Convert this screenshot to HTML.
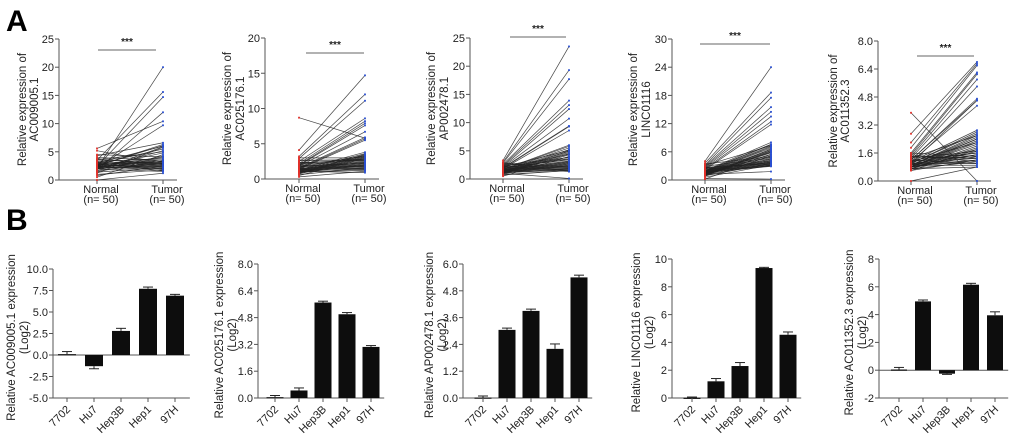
<!DOCTYPE html>
<html><head><meta charset="utf-8">
<style>
html,body{margin:0;padding:0;background:#fff;}
svg{display:block;font-family:"Liberation Sans",Arial,sans-serif;}
</style></head>
<body>
<svg id="fig" width="1020" height="437" viewBox="0 0 1020 437" xmlns="http://www.w3.org/2000/svg">
<text x="6" y="31" font-size="30" font-weight="bold">A</text>
<text x="6" y="230" font-size="30" font-weight="bold">B</text>
</svg>
<script>
// ---------- Panel A data (paired normal/tumor) ----------
const pairGroups = ["Normal","Tumor"];
const a1Normal = [2.1,3.5,2.4,1.8,5.6,2.2,4.3,2.5,3.0,1.2,2.8,2.0,3.6,2.3,0.5,1.9,2.6,3.3,2.2,4.0,1.5,2.7,3.1,2.4,2.0,5.2,1.7,2.9,2.3,3.8,2.5,0.8,2.1,3.4,2.6,1.4,2.2,3.0,2.8,1.0,2.4,3.2,2.0,2.7,4.5,1.6,2.5,3.6,2.3,0.0];
const a1Tumor  = [20.0,15.6,14.7,12.0,10.4,9.7,6.6,6.3,6.0,5.8,5.5,5.2,5.0,4.8,4.5,4.2,4.0,3.8,3.6,3.5,3.4,3.3,3.2,3.1,3.0,3.0,2.9,2.8,2.8,2.7,2.6,2.5,2.5,2.4,2.3,2.2,2.1,2.0,1.9,1.8,1.7,1.6,1.5,3.6,4.1,5.9,6.1,2.9,3.3,1.2];
const a2Normal = [8.7,4.1,3.2,2.9,2.5,2.2,2.0,1.9,1.8,1.6,1.5,1.4,1.3,1.2,1.1,1.0,0.9,0.8,0.7,0.5,2.6,2.3,2.1,1.7,1.5,1.3,1.2,1.1,1.0,0.9,2.4,2.0,1.8,1.6,1.4,1.2,1.0,0.8,3.0,2.7,1.9,1.5,1.3,1.1,2.2,1.7,1.4,1.0,0.6,0.3];
const a2Tumor  = [5.8,14.7,12.0,11.1,8.6,8.2,7.9,7.6,6.7,5.9,5.7,5.5,3.8,3.6,3.4,3.3,3.2,3.1,3.0,2.9,2.8,2.7,2.6,2.5,2.4,2.3,2.2,2.1,2.0,1.9,1.8,1.7,1.6,1.5,1.4,1.3,1.2,3.5,3.0,2.6,2.2,1.8,1.5,0.9,2.8,3.3,2.4,2.0,1.6,1.1];
const a3Normal = [3.3,3.0,2.8,2.6,2.4,2.2,2.1,2.0,1.9,1.8,1.7,1.6,1.5,1.4,1.3,1.2,1.1,1.0,0.9,0.5,2.5,2.3,2.0,1.8,1.6,1.5,1.4,1.3,1.2,1.0,2.7,2.2,1.9,1.7,1.5,1.3,1.1,0.8,2.9,2.4,2.0,1.6,1.4,1.2,2.1,1.8,1.5,1.1,0.7,1.0];
const a3Tumor  = [23.5,19.3,17.7,13.9,13.1,12.4,10.7,9.4,9.3,8.6,6.0,5.8,5.5,5.2,5.0,4.9,4.7,4.5,4.3,4.0,3.8,3.6,3.4,3.2,3.0,2.9,2.8,2.6,2.5,2.4,2.2,2.1,2.0,1.9,1.8,1.7,1.6,1.5,1.4,1.3,3.5,3.1,2.7,2.3,5.1,4.4,3.9,1.8,1.5,0.1];
const a4Normal = [4.0,3.6,3.2,3.0,2.8,2.6,2.4,2.2,2.0,1.9,1.8,1.7,1.6,1.5,1.4,1.3,1.2,1.1,1.0,0.2,3.4,2.9,2.5,2.1,1.9,1.7,1.5,1.3,1.1,0.9,2.7,2.3,2.0,1.8,1.6,1.4,1.2,0.8,3.1,2.6,2.1,1.7,1.4,1.0,2.4,2.0,1.6,1.2,0.6,0.3];
const a4Tumor  = [24.0,18.6,17.5,15.5,14.5,13.5,12.4,11.8,8.0,7.6,7.5,7.2,7.0,6.8,6.5,6.3,6.0,5.8,5.5,5.2,5.0,4.8,4.6,4.4,4.2,4.0,3.9,3.8,3.6,3.5,3.4,3.3,3.2,3.1,3.0,4.5,5.4,6.6,7.3,3.7,4.1,4.9,5.9,6.2,3.6,3.0,2.9,1.8,3.2,0.2];
const a5Normal = [3.9,2.7,2.2,1.9,1.6,1.5,1.4,1.3,1.2,1.2,1.1,1.1,1.0,1.0,0.9,0.9,0.9,0.8,0.8,0.8,0.7,0.7,0.6,1.3,1.2,1.1,1.0,0.9,0.8,1.6,1.4,1.0,0.9,0.8,0.7,1.5,1.2,1.0,0.9,0.7,1.3,1.1,0.9,0.8,1.4,1.0,0.8,0.7,0.6,0.0];
const a5Tumor  = [0.0,6.8,6.7,6.6,6.2,6.1,5.8,5.4,4.7,4.6,4.3,2.9,2.8,2.7,2.6,2.5,2.4,2.3,2.2,2.1,2.0,1.9,1.8,1.7,1.6,1.6,1.5,1.5,1.4,1.4,1.3,1.3,1.2,1.2,1.1,1.1,1.0,1.0,0.9,0.8,2.6,2.2,1.8,1.5,1.3,4.6,2.4,1.7,1.2,0.8];
const a1Ticks = [0,5,10,15,20,25];
const a2Ticks = [0,5,10,15,20];
const a3Ticks = [0,5,10,15,20,25];
const a4Ticks = [0,6,12,18,24,30];
const a5Ticks = [0,1.6,3.2,4.8,6.4,8.0];

// ---------- Panel B data (cell lines) ----------
const cellLines = ["7702","Hu7","Hep3B","Hep1","97H"];
const b1Values = [0.1,-1.3,2.8,7.7,6.9];
const b1Errors = [0.3,0.3,0.3,0.2,0.15];
const b2Values = [0.05,0.45,5.7,5.0,3.05];
const b2Errors = [0.1,0.15,0.08,0.1,0.08];
const b3Values = [0.02,3.05,3.9,2.2,5.4];
const b3Errors = [0.07,0.08,0.08,0.22,0.1];
const b4Values = [0.02,1.2,2.3,9.35,4.55];
const b4Errors = [0.05,0.2,0.25,0.05,0.2];
const b5Values = [0.05,4.95,-0.25,6.15,3.95];
const b5Errors = [0.15,0.1,0.05,0.1,0.25];
const b1Ticks = [-5,-2.5,0,2.5,5,7.5,10];
const b2Ticks = [0,1.6,3.2,4.8,6.4,8];
const b3Ticks = [0,1.2,2.4,3.6,4.8,6];
const b4Ticks = [0,2,4,6,8,10];
const b5Ticks = [-2,0,2,4,6,8];

const NS = "http://www.w3.org/2000/svg";
const svg = document.getElementById("fig");
function el(tag, parent, attrs){
  const e = document.createElementNS(NS, tag);
  for (const k in attrs) e.setAttribute(k, attrs[k]);
  parent.appendChild(e);
  return e;
}
function fmt(v, dec){ return dec>0 ? v.toFixed(dec) : String(v); }

function pairChart(cfg, normal, tumor, ticks){
  const g = el("g", svg, {});
  
  
  const min = ticks[0], max = ticks[ticks.length-1];
  const y = v => cfg.bottom - (v-min)/(max-min)*(cfg.bottom-cfg.top);
  const xs = [cfg.ax+cfg.off, cfg.ax+cfg.off+66];
  const ya = el("line", g, {x1:cfg.ax,y1:cfg.top,x2:cfg.ax,y2:cfg.bottom,stroke:"#555","stroke-width":1});
  
  
  const xa = el("line", g, {x1:cfg.ax,y1:cfg.bottom,x2:xs[1]+14,y2:cfg.bottom,stroke:"#555","stroke-width":1});
  
  
  ticks.forEach(t=>{
    const tk = el("line", g, {x1:cfg.ax-4,y1:y(t),x2:cfg.ax,y2:y(t),stroke:"#555","stroke-width":1});
    
    
    const tl = el("text", g, {x:cfg.ax-5,y:y(t)+4,"font-size":11,"text-anchor":"end",fill:"#222"});
    tl.textContent = fmt(t, cfg.dec);
    
    
  });
  xs.forEach((x,i)=>{
    const tk = el("line", g, {x1:x,y1:cfg.bottom,x2:x,y2:cfg.bottom+4,stroke:"#555","stroke-width":1});
    
    
    const l1 = el("text", g, {x:x+4,y:cfg.bottom+13,"font-size":11,"text-anchor":"middle",fill:"#222"});
    l1.textContent = pairGroups[i];
    
    
    const l2 = el("text", g, {x:x+4,y:cfg.bottom+23,"font-size":11,"text-anchor":"middle",fill:"#222"});
    l2.textContent = "(n= 50)";
    
    
  });
  normal.forEach((n,i)=>{
    const ln = el("line", g, {x1:xs[0],y1:y(n),x2:xs[1],y2:y(tumor[i]),stroke:"#222","stroke-width":0.7,"stroke-opacity":0.85});
    
    
  });
  normal.forEach(n=>{
    const d = el("rect", g, {x:xs[0]-0.9,y:y(n)-0.9,width:1.8,height:1.8,fill:"#e0302a"});
    
    
  });
  tumor.forEach(t=>{
    const d = el("rect", g, {x:xs[1]-0.9,y:y(t)-0.9,width:1.8,height:1.8,fill:"#2a4fd0"});
    
    
  });
  const sb = el("line", g, {x1:cfg.sig[0],y1:cfg.sig[2],x2:cfg.sig[1],y2:cfg.sig[2],stroke:"#666","stroke-width":1});
  
  
  const st = el("text", g, {x:(cfg.sig[0]+cfg.sig[1])/2,y:cfg.sig[2]-5,"font-size":10,"text-anchor":"middle",fill:"#222","font-weight":"bold"});
  st.textContent = "***";
  
  
  const cy = (cfg.top+cfg.bottom)/2;
  cfg.title.forEach((t,i)=>{
    const x = cfg.tx[i] + 5;
    const tt = el("text", g, {x:x,y:cy,"font-size":11.5,"text-anchor":"middle",fill:"#222",transform:`rotate(-90 ${x} ${cy})`});
    tt.textContent = t;
    
    
  });
}

function barChart(cfg, values, errors, ticks){
  const g = el("g", svg, {});
  
  
  const min = ticks[0], max = ticks[ticks.length-1];
  const y = v => cfg.bottom - (v-min)/(max-min)*(cfg.bottom-cfg.top);
  const xc = i => cfg.ax + cfg.off + i*cfg.step;
  const xEnd = xc(cellLines.length-1) + cfg.step*0.55;
  const ya = el("line", g, {x1:cfg.ax,y1:cfg.top,x2:cfg.ax,y2:cfg.bottom,stroke:"#555","stroke-width":1});
  
  
  const xa = el("line", g, {x1:cfg.ax,y1:y(0),x2:xEnd,y2:y(0),stroke:"#555","stroke-width":1});
  
  
  if (min < 0){
    const xb = el("line", g, {x1:cfg.ax,y1:cfg.bottom,x2:xEnd,y2:cfg.bottom,stroke:"#555","stroke-width":1});
    
    
  }
  ticks.forEach(t=>{
    const tk = el("line", g, {x1:cfg.ax-4,y1:y(t),x2:cfg.ax,y2:y(t),stroke:"#555","stroke-width":1});
    
    
    const tl = el("text", g, {x:cfg.ax-5,y:y(t)+4,"font-size":11,"text-anchor":"end",fill:"#222"});
    tl.textContent = fmt(t, cfg.dec);
    
    
  });
  values.forEach((v,i)=>{
    const x = xc(i);
    const top = Math.min(y(v), y(0)), h = Math.max(Math.abs(y(v)-y(0)), 1.2);
    const b = el("rect", g, {x:x-cfg.bw/2,y:top,width:cfg.bw,height:h,fill:"#0d0d0d"});
    
    
    const ev = v>=0 ? v+errors[i] : v-errors[i];
    const e1 = el("line", g, {x1:x,y1:y(v),x2:x,y2:y(ev),stroke:"#222","stroke-width":1});
    
    
    const e2 = el("line", g, {x1:x-5,y1:y(ev),x2:x+5,y2:y(ev),stroke:"#222","stroke-width":1});
    
    
    const tk = el("line", g, {x1:x,y1:cfg.bottom,x2:x,y2:cfg.bottom+4,stroke:"#555","stroke-width":1});
    
    
    const lx = x+4, ly = cfg.bottom+12;
    const lb = el("text", g, {x:lx,y:ly,"font-size":11,"text-anchor":"end",fill:"#222",transform:`rotate(-45 ${lx} ${ly})`});
    lb.textContent = cellLines[i];
    
    
  });
  const cy = (cfg.top+cfg.bottom)/2 + 4;
  cfg.title.forEach((t,i)=>{
    const x = cfg.tx[i] + 5;
    const tt = el("text", g, {x:x,y:cy,"font-size":11.5,"text-anchor":"middle",fill:"#222",transform:`rotate(-90 ${x} ${cy})`});
    tt.textContent = t;
    
    
  });
}

pairChart({name:"chart-a-ac009005",ax:59,off:38,top:39,bottom:180,dec:0,sig:[98,156,50],tx:[21,33],title:["Relative expression of","AC009005.1"]}, a1Normal, a1Tumor, a1Ticks);
pairChart({name:"chart-a-ac025176",ax:265,off:34,top:38,bottom:179,dec:0,sig:[306,364,53],tx:[226,239],title:["Relative expression of","AC025176.1"]}, a2Normal, a2Tumor, a2Ticks);
pairChart({name:"chart-a-ap002478",ax:470,off:33,top:38,bottom:179,dec:0,sig:[510,566,37],tx:[430,443],title:["Relative expression of","AP002478.1"]}, a3Normal, a3Tumor, a3Ticks);
pairChart({name:"chart-a-linc01116",ax:672,off:33,top:39,bottom:180,dec:0,sig:[700,770,44],tx:[632,645],title:["Relative expression of","LINC01116"]}, a4Normal, a4Tumor, a4Ticks);
pairChart({name:"chart-a-ac011352",ax:878,off:33,top:41,bottom:181,dec:1,sig:[917,974,56],tx:[832,844],title:["Relative expression of","AC011352.3"]}, a5Normal, a5Tumor, a5Ticks);

barChart({name:"chart-b-ac009005",ax:53,off:14,step:27,bw:18,top:269,bottom:398,dec:1,tx:[10,23],title:["Relative AC009005.1 expression","(Log2)"]}, b1Values, b1Errors, b1Ticks);
barChart({name:"chart-b-ac025176",ax:258,off:17,step:24,bw:17,top:264,bottom:398,dec:1,tx:[218,231],title:["Relative AC025176.1 expression","(Log2)"]}, b2Values, b2Errors, b2Ticks);
barChart({name:"chart-b-ap002478",ax:463,off:20,step:24,bw:17,top:264,bottom:398,dec:1,tx:[428,441],title:["Relative AP002478.1 expression","(Log2)"]}, b3Values, b3Errors, b3Ticks);
barChart({name:"chart-b-linc01116",ax:672,off:20,step:24,bw:17,top:259,bottom:398,dec:0,tx:[635,648],title:["Relative LINC01116 expression","(Log2)"]}, b4Values, b4Errors, b4Ticks);
barChart({name:"chart-b-ac011352",ax:879,off:20,step:24,bw:16,top:259,bottom:398,dec:0,tx:[848,861],title:["Relative AC011352.3 expression","(Log2)"]}, b5Values, b5Errors, b5Ticks);
</script>
</body></html>
